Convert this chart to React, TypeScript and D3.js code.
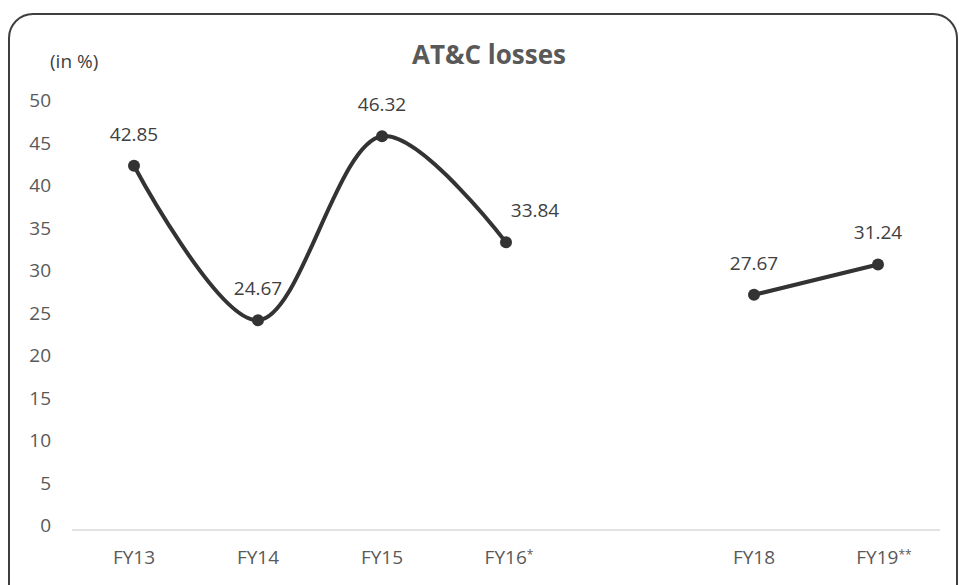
import React from "react";
import * as d3 from "d3";

const categories = ["FY13", "FY14", "FY15", "FY16", "FY17", "FY18", "FY19"];
const categoryMarks = ["", "", "", "*", "", "", "**"];
const showCategory = [true, true, true, true, false, true, true];
const lossValues: (number | null)[] = [42.85, 24.67, 46.32, 33.84, null, 27.67, 31.24];
const labelShiftX = [0, 0, 0, 29, 0, 0, 0];
const yTicks = [0, 5, 10, 15, 20, 25, 30, 35, 40, 45, 50];

const W = 959;
const H = 585;
const plot = { left: 72, right: 940, top: 105, bottom: 530 };
const FONT = "'Open Sans', 'Noto Sans', sans-serif";
const TEXT = "#595959";

export default function App() {
  const x = d3
    .scaleBand<string>()
    .domain(categories)
    .range([plot.left, plot.right]);
  const y = d3.scaleLinear().domain([0, 50]).range([plot.bottom, plot.top]);
  const cx = (c: string) => (x(c) ?? 0) + x.bandwidth() / 2;

  const pts = categories.map((c, i) => ({ c, v: lossValues[i], i }));
  const line = d3
    .line<{ c: string; v: number | null }>()
    .defined((d) => d.v !== null)
    .x((d) => cx(d.c))
    .y((d) => y(d.v as number))
    .curve(d3.curveCatmullRom.alpha(0.5));

  return (
    <svg
      width={W}
      height={H}
      style={{ position: "absolute", left: 0, top: 0, background: "#fff" }}
    >
      <rect
        x={9}
        y={14}
        width={948}
        height={600}
        rx={24}
        fill="#fff"
        stroke="#3f3f3f"
        strokeWidth={2}
      />
      <text
        x={489}
        y={64}
        textAnchor="middle"
        fontFamily={FONT}
        fontWeight={700}
        fontSize={26}
        fill={TEXT}
      >
        AT&amp;C losses
      </text>
      <text x={50} y={68} fontFamily={FONT} fontSize={19} fill="#404040">
        (in %)
      </text>

      {yTicks.map((t) => (
        <text
          key={t}
          x={51}
          y={y(t) - 3}
          textAnchor="end"
          dominantBaseline="middle"
          fontFamily={FONT}
          fontSize={19}
          fill={TEXT}
        >
          {t}
        </text>
      ))}

      <line
        x1={plot.left}
        x2={plot.right}
        y1={plot.bottom}
        y2={plot.bottom}
        stroke="#d9d9d9"
        strokeWidth={1.5}
      />

      {categories.map((c, i) =>
        showCategory[i] ? (
          <text
            key={c}
            x={cx(c) + (categoryMarks[i] ? categoryMarks[i].length * 3 : 0)}
            y={564}
            textAnchor="middle"
            fontFamily={FONT}
            fontSize={19}
            fill={TEXT}
          >
            {c}
            {categoryMarks[i] ? (
              <tspan fontSize={12} dy={-5}>
                {categoryMarks[i]}
              </tspan>
            ) : null}
          </text>
        ) : null
      )}

      <path
        d={line(pts) ?? ""}
        fill="none"
        stroke="#333333"
        strokeWidth={4}
        strokeLinecap="round"
        strokeLinejoin="round"
      />
      {pts
        .filter((d) => d.v !== null)
        .map((d) => (
          <circle key={d.c} cx={cx(d.c)} cy={y(d.v as number)} r={6} fill="#333333" />
        ))}
      {pts
        .filter((d) => d.v !== null)
        .map((d) => (
          <text
            key={"l" + d.c}
            x={cx(d.c) + labelShiftX[d.i]}
            y={y(d.v as number) - 25}
            textAnchor="middle"
            fontFamily={FONT}
            fontSize={19}
            fill="#404040"
          >
            {(d.v as number).toFixed(2)}
          </text>
        ))}
    </svg>
  );
}
